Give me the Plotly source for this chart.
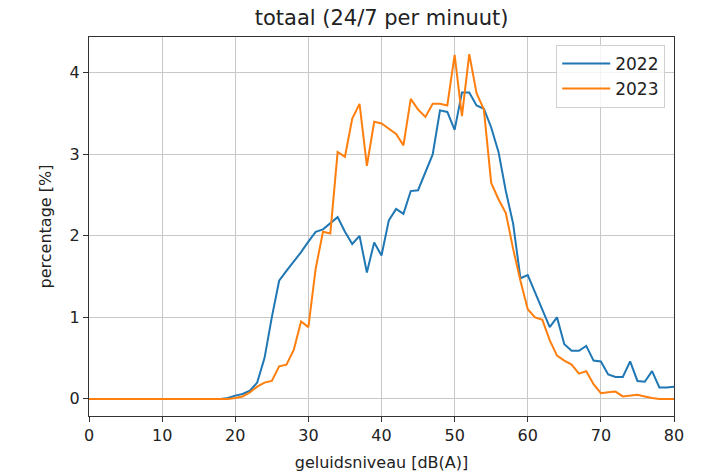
import plotly.graph_objects as go

db = list(range(0, 81))

pct_2022 = [0.0] * 19 + [
    0.01, 0.04, 0.06, 0.10, 0.20, 0.50, 1.00, 1.45, 1.57, 1.68,   # 19-28
    1.80, 1.93, 2.05, 2.08, 2.15, 2.23, 2.05, 1.90, 2.00, 1.55,   # 29-38
    1.92, 1.76, 2.19, 2.33, 2.27, 2.55, 2.56, 2.78, 3.00, 3.54,   # 39-48
    3.52, 3.30, 3.76, 3.76, 3.60, 3.56, 3.33, 3.03, 2.55, 2.15,   # 49-58
    1.48, 1.52, 1.30, 1.10, 0.88, 1.00, 0.67, 0.59, 0.59, 0.65,   # 59-68
    0.47, 0.46, 0.30, 0.27, 0.27, 0.46, 0.22, 0.21, 0.34, 0.14,   # 69-78
    0.14, 0.15,                                                   # 79-80
]

pct_2023 = [0.0] * 19 + [
    0.00, 0.01, 0.03, 0.08, 0.15, 0.20, 0.22, 0.40, 0.42, 0.60,   # 19-28
    0.95, 0.88, 1.60, 2.05, 2.03, 3.03, 2.97, 3.44, 3.62, 2.86,   # 29-38
    3.40, 3.38, 3.32, 3.25, 3.11, 3.68, 3.55, 3.46, 3.62, 3.62,   # 39-48
    3.60, 4.22, 3.47, 4.23, 3.75, 3.55, 2.65, 2.45, 2.28, 1.84,   # 49-58
    1.45, 1.10, 1.00, 0.97, 0.72, 0.53, 0.47, 0.42, 0.31, 0.34,   # 59-68
    0.18, 0.07, 0.08, 0.09, 0.03, 0.04, 0.05, 0.03, 0.01, 0.00,   # 69-78
    0.00, 0.00,                                                   # 79-80
]

x_ticks = [0, 10, 20, 30, 40, 50, 60, 70, 80]
y_ticks = [0, 1, 2, 3, 4]

font_family = "DejaVu Sans"

fig = go.Figure()
fig.add_trace(go.Scatter(x=db, y=pct_2022, mode="lines", name="2022",
                         line=dict(color="#1f77b4", width=2)))
fig.add_trace(go.Scatter(x=db, y=pct_2023, mode="lines", name="2023",
                         line=dict(color="#ff7f0e", width=2)))

axis_common = dict(
    showgrid=True, gridcolor="#c8c8c8", gridwidth=1,
    showline=True, linecolor="#333333", linewidth=1.2, mirror=True,
    ticks="outside", ticklen=5, tickcolor="#333333",
    zeroline=False, automargin=False,
    tickfont=dict(size=16, color="#222222", family=font_family),
)

fig.update_layout(
    width=708, height=475,
    margin=dict(l=89, r=34, t=37, b=59),
    paper_bgcolor="white", plot_bgcolor="white",
    title=dict(text="totaal (24/7 per minuut)", x=0.539, xanchor="center",
               y=0.962, yanchor="middle",
               font=dict(size=21, color="#222222", family=font_family)),
    xaxis=dict(range=[0, 80], tickvals=x_ticks,
               title=dict(text="geluidsniveau [dB(A)]", standoff=12,
                          font=dict(size=16, color="#222222", family=font_family)),
               **axis_common),
    yaxis=dict(range=[-0.21, 4.44], tickvals=y_ticks,
               title=dict(text="percentage [%]", standoff=13,
                          font=dict(size=16, color="#222222", family=font_family)),
               **axis_common),
    legend=dict(x=0.985, y=0.979, xanchor="right", yanchor="top",
                bgcolor="rgba(255,255,255,0.8)", bordercolor="#d0d0d0", borderwidth=1,
                font=dict(size=17, color="#222222", family=font_family),
                itemwidth=48, tracegroupgap=2),
    showlegend=True,
)

fig.write_html("out.html")
